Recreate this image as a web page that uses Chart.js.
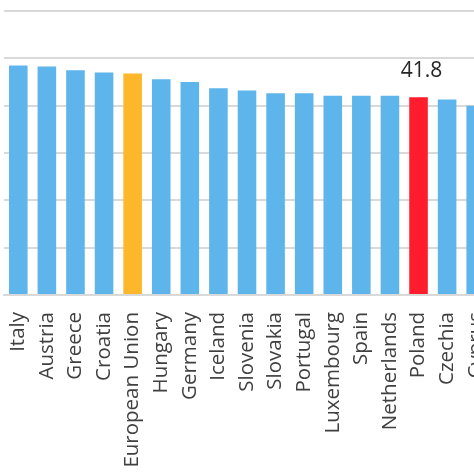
<!DOCTYPE html>
<html>
<head>
<meta charset="utf-8">
<script src="https://cdn.jsdelivr.net/npm/chart.js@4/dist/chart.umd.min.js"></script>
<style>
    html, body { margin: 0; padding: 0; background: #fff; overflow: hidden; }
    #wrap { position: relative; width: 474px; height: 474px; overflow: hidden; }
    #chart { position: absolute; left: -30px; top: 0; }
</style>
</head>
<body>
<div id="wrap"><canvas id="chart" width="540" height="474"></canvas></div>
<script>
// Countries, left to right (the chart is cut on the right)
const countries = ['Italy', 'Austria', 'Greece', 'Croatia', 'European Union', 'Hungary', 'Germany',
    'Iceland', 'Slovenia', 'Slovakia', 'Portugal', 'Luxembourg', 'Spain', 'Netherlands',
    'Poland', 'Czechia', 'Cyprus'];
const values = [48.5, 48.3, 47.5, 47.0, 46.8, 45.6, 45.0, 43.7, 43.2, 42.6, 42.6, 42.1, 42.1, 42.1,
    41.8, 41.3, 40.0];
const yTicks = [0, 10, 20, 30, 40, 50, 60];
const labelled = 'Poland';

const BLUE = '#5eb5eb';
const ORANGE = '#fdb72a';
const RED = '#ff1c2c';

function barColor(name) {
    if (name === 'European Union') return ORANGE;
    if (name === labelled) return RED;
    return BLUE;
}

// value label above the highlighted bar
const valueLabel = {
    id: 'valueLabel',
    afterDatasetsDraw(chart) {
        const ctx = chart.ctx;
        const i = countries.indexOf(labelled);
        const bar = chart.getDatasetMeta(0).data[i];
        ctx.save();
        ctx.font = '21px "Open Sans"';
        ctx.fillStyle = '#262626';
        ctx.textAlign = 'center';
        ctx.textBaseline = 'alphabetic';
        ctx.fillText(values[i].toFixed(1), bar.x + 3, bar.y - 20);
        ctx.restore();
    }
};

new Chart(document.getElementById('chart'), {
    type: 'bar',
    data: {
        labels: countries,
        datasets: [{
            data: values,
            backgroundColor: countries.map(barColor),
            borderWidth: 0,
            barPercentage: 0.65,
            categoryPercentage: 1
        }]
    },
    options: {
        responsive: false,
        animation: false,
        layout: { padding: { left: 34, right: 20, top: 11, bottom: 0 } },
        plugins: { legend: { display: false }, tooltip: { enabled: false } },
        scales: {
            x: {
                grid: { display: false },
                border: { display: true, color: '#d9d9d9', width: 2 },
                ticks: {
                    minRotation: 90,
                    maxRotation: 90,
                    autoSkip: false,
                    padding: 9,
                    color: '#404040',
                    font: { family: 'Open Sans', size: 20.5 }
                },
                afterFit(s) { s.height = 179; }
            },
            y: {
                min: 0,
                max: 60,
                afterBuildTicks(s) { s.ticks = yTicks.map(v => ({ value: v })); },
                border: { display: false },
                grid: { color: '#d9d9d9', lineWidth: 2, drawTicks: false },
                ticks: { display: false },
                afterFit(s) { s.width = 0; }
            }
        }
    },
    plugins: [valueLabel]
});
</script>
</body>
</html>
